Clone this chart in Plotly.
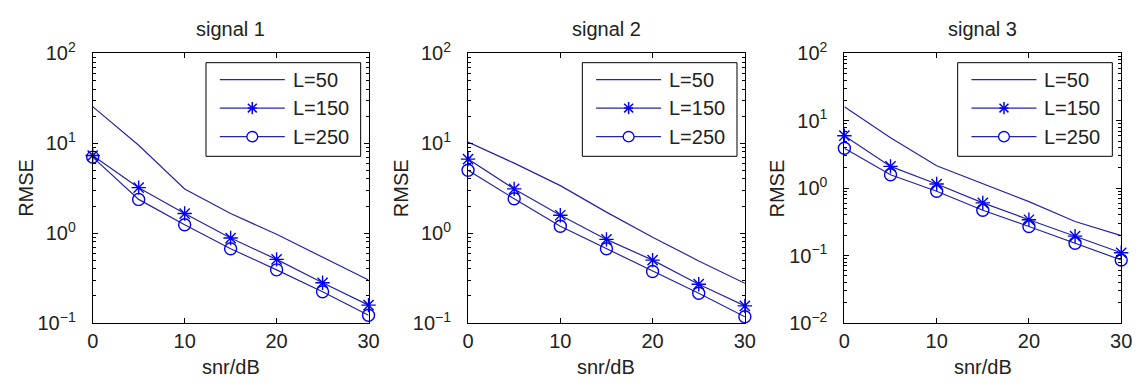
import plotly.graph_objects as go

# SNR sweep (dB)
snr_db = [0, 5, 10, 15, 20, 25, 30]

# RMSE per signal and window length L
sig1_L50 = [25.5, 9.5, 3.1, 1.65, 0.97, 0.54, 0.30]
sig1_L150 = [7.3, 3.2, 1.65, 0.88, 0.51, 0.28, 0.158]
sig1_L250 = [7.0, 2.37, 1.24, 0.67, 0.39, 0.222, 0.122]

sig2_L50 = [10.3, 6.0, 3.37, 1.71, 0.90, 0.49, 0.276]
sig2_L150 = [6.65, 3.1, 1.58, 0.85, 0.50, 0.27, 0.155]
sig2_L250 = [5.0, 2.41, 1.19, 0.67, 0.374, 0.214, 0.117]

sig3_L50 = [16.1, 5.6, 2.15, 1.15, 0.63, 0.32, 0.198]
sig3_L150 = [6.0, 2.1, 1.15, 0.605, 0.34, 0.194, 0.110]
sig3_L250 = [3.9, 1.58, 0.90, 0.47, 0.27, 0.152, 0.086]

panel_titles = ["signal 1", "signal 2", "signal 3"]
series_names = ["L=50", "L=150", "L=250"]
x_ticks = [0, 10, 20, 30]
y_exp_ranges = [(-1, 2), (-1, 2), (-2, 2)]

panels = [
    [sig1_L50, sig1_L150, sig1_L250],
    [sig2_L50, sig2_L150, sig2_L250],
    [sig3_L50, sig3_L150, sig3_L250],
]

W, H = 1146, 392
FONT = "Liberation Sans, Arial, sans-serif"
FS = 20
TXT_C = "#222"
LINE_C = "#2424a8"
MARK_C = "#0000f0"

# plot-area pixel boxes (left, right) and shared top/bottom
x_boxes = [(88, 368), (469, 750), (851, 1132)]
top_px, bot_px = 42, 330

# legend box: left edge per panel, top edge, size, entry rows
legend_left = [203, 585, 966]
legend_top = 52
legend_w, legend_h = 157, 100
legend_rows = [70, 100.5, 131]

symbols = [None, "asterisk-open", "circle-open"]


def px(x):
    return x / W


def py(y):
    return (H - y) / H


def label(text, x_px, y_px, angle=0, xanchor="center"):
    return dict(text=text, x=px(x_px), y=py(y_px), xref="paper", yref="paper",
                xanchor=xanchor, yanchor="middle", showarrow=False, textangle=angle,
                font=dict(family=FONT, size=FS, color=TXT_C))


def seg(xa, ya, xb, yb, color, width):
    return dict(type="line", xref="paper", yref="paper",
                x0=px(xa), y0=py(ya), x1=px(xb), y1=py(yb),
                line=dict(color=color, width=width))


def legend_glyph(kind, cx, cy):
    """Legend sample: line plus optional marker glyph centred at (cx, cy)."""
    out = [seg(cx - 33, cy, cx + 33, cy, LINE_C, 1.2)]
    if kind == "asterisk-open":
        r = 6.5
        d = r * 0.7
        out += [seg(cx, cy - r, cx, cy + r, MARK_C, 1.5),
                seg(cx - d, cy, cx + d, cy, MARK_C, 1.5),
                seg(cx - d, cy - d, cx + d, cy + d, MARK_C, 1.5),
                seg(cx - d, cy + d, cx + d, cy - d, MARK_C, 1.5)]
    elif kind == "circle-open":
        r = 5.5
        out.append(dict(type="circle", xref="paper", yref="paper",
                        x0=px(cx - r), x1=px(cx + r), y0=py(cy + r), y1=py(cy - r),
                        fillcolor="white", line=dict(color=MARK_C, width=1.3)))
    return out


fig = go.Figure()
annotations = []
shapes = []

for i, series in enumerate(panels):
    n = "" if i == 0 else str(i + 1)
    xa, ya = "x" + n, "y" + n
    for j, vals in enumerate(series):
        mode = "lines" if symbols[j] is None else "lines+markers"
        fig.add_trace(go.Scatter(
            x=snr_db, y=vals, name=series_names[j], mode=mode,
            xaxis=xa, yaxis=ya, showlegend=False,
            line=dict(color=LINE_C, width=1.2),
            marker=dict(symbol=symbols[j] or "circle", size=12, color=MARK_C,
                        line=dict(width=1.4, color=MARK_C)),
            cliponaxis=False,
        ))

    lo, hi = y_exp_ranges[i]
    tickvals = [10.0 ** k for k in range(lo, hi + 1)]
    ticktext = []
    for k in range(lo, hi + 1):
        s = ("\u2212" + str(-k)) if k < 0 else str(k)
        ticktext.append(f"10<sup>{s}</sup>")
    minor_vals = [m * 10.0 ** k for k in range(lo, hi) for m in range(2, 10)]

    x0, x1 = x_boxes[i]
    axis_common = dict(showline=True, linecolor="black", linewidth=1,
                       mirror="allticks", ticks="inside", tickcolor="black",
                       showgrid=False, zeroline=False,
                       tickfont=dict(family=FONT, size=FS, color=TXT_C))
    fig.layout["xaxis" + n] = dict(
        domain=[px(x0), px(x1)], range=[0, 30], tickmode="array",
        tickvals=x_ticks, ticklen=5, anchor=ya, **axis_common)
    fig.layout["yaxis" + n] = dict(
        domain=[py(bot_px), py(top_px)], type="log",
        range=[lo, hi], tickmode="array", tickvals=tickvals, ticktext=ticktext,
        ticklen=5, anchor=xa, ticklabelstandoff=12,
        minor=dict(tickmode="array", tickvals=minor_vals, ticks="inside",
                   ticklen=3, tickcolor="black", showgrid=False),
        **axis_common)

    # legend panel
    bx = legend_left[i]
    shapes.append(dict(type="rect", xref="paper", yref="paper",
                       x0=px(bx), x1=px(bx + legend_w),
                       y0=py(legend_top + legend_h), y1=py(legend_top),
                       fillcolor="white", line=dict(color="black", width=1)))
    for j, ry in enumerate(legend_rows):
        shapes += legend_glyph(symbols[j], bx + 47, ry)
        annotations.append(label(series_names[j], bx + 86, ry, xanchor="left"))

    cx = (x0 + x1) / 2
    annotations.append(label(panel_titles[i], cx, 16))
    annotations.append(label("snr/dB", cx, 377))
    annotations.append(label("RMSE", x0 - 68, (top_px + bot_px) / 2, -90))

fig.update_layout(
    width=W, height=H, margin=dict(l=0, r=0, t=0, b=0),
    paper_bgcolor="white", plot_bgcolor="white",
    annotations=annotations, shapes=shapes, showlegend=False,
)

fig.write_html(
    "out.html",
    post_script=(
        "document.documentElement.style.margin='0';"
        "document.body.style.margin='0';document.body.style.padding='0';"
        "document.body.style.overflow='hidden';"
    ),
)
